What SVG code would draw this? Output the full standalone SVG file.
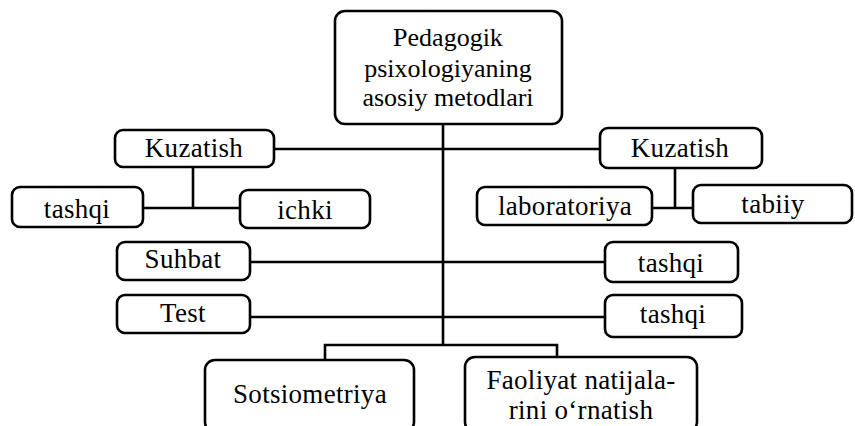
<svg xmlns="http://www.w3.org/2000/svg" width="855" height="426" viewBox="0 0 855 426">
<style>
.box{fill:#fff;stroke:#000;stroke-width:2.6}
.ln{fill:none;stroke:#000;stroke-width:2.6}
.t text{font-family:"Liberation Serif","Times New Roman",serif;font-size:27px;letter-spacing:0.3px;fill:#000;text-anchor:middle}
.t text.big{font-size:26px;letter-spacing:0}
</style>
<rect width="855" height="426" fill="#fff"/>
<g id="connectors" class="ln">
<path d="M443 124V345"/>
<path d="M274 149H443"/>
<path d="M443 149H600"/>
<path d="M193 167V208M143 208H240"/>
<path d="M675 168V208M652 208H693"/>
<path d="M250 262H605"/>
<path d="M250 317H605"/>
<path d="M325 360V345H557V358"/>
</g>
<g class="t">
<g id="root"><rect class="box" x="335" y="11" width="227" height="113" rx="10"/>
<text class="big" x="448" y="46">Pedagogik</text>
<text class="big" x="448" y="77">psixologiyaning</text>
<text class="big" x="448" y="106">asosiy metodlari</text></g>
<g id="kuzatish-l"><rect class="box" x="115" y="130" width="159" height="37" rx="8"/><text x="194" y="157">Kuzatish</text></g>
<g id="kuzatish-r"><rect class="box" x="600" y="128" width="162" height="40" rx="8"/><text x="680" y="157">Kuzatish</text></g>
<g id="tashqi-l"><rect class="box" x="12" y="187" width="131" height="40" rx="8"/><text x="77" y="218">tashqi</text></g>
<g id="ichki"><rect class="box" x="240" y="190" width="130" height="38" rx="8"/><text x="305" y="219">ichki</text></g>
<g id="laboratoriya"><rect class="box" x="477" y="187" width="175" height="38" rx="8"/><text x="565" y="215">laboratoriya</text></g>
<g id="tabiiy"><rect class="box" x="693" y="185" width="159" height="38" rx="8"/><text x="773" y="213">tabiiy</text></g>
<g id="suhbat"><rect class="box" x="117" y="242" width="133" height="38" rx="8"/><text x="183" y="268">Suhbat</text></g>
<g id="test"><rect class="box" x="117" y="295" width="133" height="38" rx="8"/><text x="183" y="322">Test</text></g>
<g id="tashqi-r1"><rect class="box" x="605" y="242" width="133" height="40" rx="8"/><text x="671" y="272">tashqi</text></g>
<g id="tashqi-r2"><rect class="box" x="605" y="295" width="137" height="42" rx="8"/><text x="673" y="323">tashqi</text></g>
<g id="sotsiometriya"><rect class="box" x="205" y="360" width="209" height="72" rx="10"/><text x="310" y="403">Sotsiometriya</text></g>
<g id="faoliyat"><rect class="box" x="465" y="357" width="232" height="75" rx="10"/><text x="581" y="389">Faoliyat natijala-</text><text x="581" y="419">rini o‘rnatish</text></g>
</g>
</svg>
